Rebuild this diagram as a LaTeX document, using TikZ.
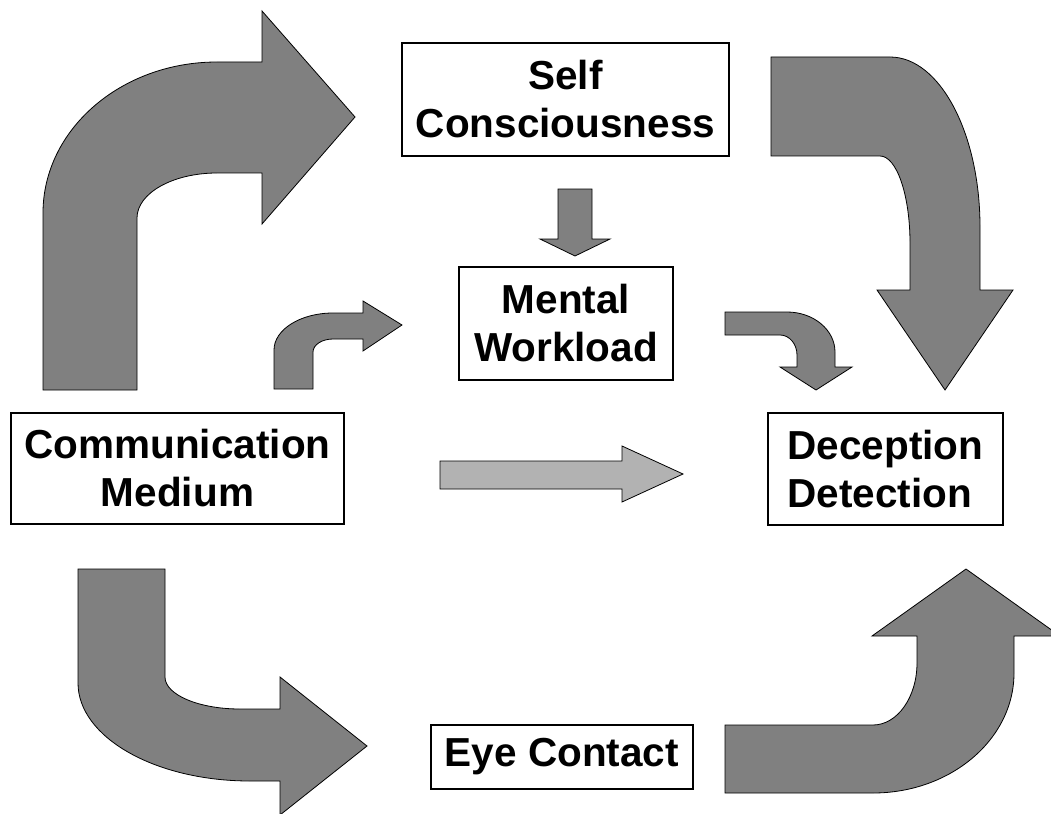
\documentclass[tikz,border=0pt]{standalone}
\usepackage{fontspec}
\setmainfont{Liberation Sans}
\usepackage{tikz}
\usetikzlibrary{calc}

\begin{document}
\begin{tikzpicture}[x=1pt,y=-1pt,
  box/.style={draw=black, line width=2pt, fill=white, inner sep=0pt, align=center,
    font=\fontsize{40.5}{48}\selectfont\bfseries},
  blockarrow/.style={draw=black, line width=0.8pt, fill=black!50, line join=miter},
  lightarrow/.style={blockarrow, fill=black!30}]
\useasboundingbox (0,0) rectangle (1051,813);
\node[box, minimum width=327pt, minimum height=113pt] (self) at (565.5,99.5) {Self\\Consciousness};
\node[box, minimum width=214pt, minimum height=113pt] (mental) at (566,323.5) {Mental\\Workload};
\node[box, minimum width=333pt, minimum height=111pt] (comm) at (177.5,468.5) {Communication\\Medium};
\node[box, minimum width=235pt, minimum height=112pt, align=left] (decep) at (885.5,469) {Deception\\Detection};
\node[box, minimum width=262pt, minimum height=64pt] (eye) at (562,757) {Eye Contact};
\draw[blockarrow] (43,390) -- (43,213) .. controls (43,129.6) and (121,62) .. (217,62) -- (262,62) -- (262,11) -- (355,117) -- (262,224) -- (262,173) -- (217,173) .. controls (172.8,173) and (137,193.2) .. (137,218) -- (137,390) -- cycle;
\draw[blockarrow] (274,389) -- (274,350) .. controls (274,329.6) and (300.4,313) .. (333,313) -- (363,313) -- (363,301) -- (402,325) -- (363,351) -- (363,339) -- (333,339) .. controls (322,339) and (313,344.8) .. (313,352) -- (313,389) -- cycle;
\draw[blockarrow] (771,57) -- (890,57) .. controls (939.7,57) and (980,133.2) .. (980,227) -- (980,290) -- (1013,290) -- (945,390) -- (877,290) -- (910,290) -- (910,243) .. controls (910,195) and (896.6,156) .. (880,156) -- (771,156) -- cycle;
\draw[blockarrow] (725,312) -- (787,312) .. controls (813.5,312) and (835,329.9) .. (835,352) -- (835,367) -- (852,367) -- (816,390) -- (780,367) -- (797,367) -- (797,355) .. controls (797,344) and (789.4,335) .. (780,335) -- (725,335) -- cycle;
\draw[blockarrow] (558,189) -- (592,189) -- (592,239) -- (610,239) -- (575,256) -- (540,239) -- (558,239) -- cycle;
\draw[lightarrow] (440,461) -- (622,461) -- (622,446) -- (683,474) -- (622,502) -- (622,489) -- (440,489) -- cycle;
\draw[blockarrow] (78,569) -- (165,569) -- (165,677) .. controls (165,694.7) and (198.6,709) .. (240,709) -- (280,709) -- (280,677) -- (367,746) -- (280,815) -- (280,781) -- (250,781) .. controls (155,781) and (78,737.1) .. (78,683) -- cycle;
\draw[blockarrow] (725,725) -- (873,725) .. controls (897.3,725) and (917,697.2) .. (917,663) -- (917,636) -- (872,636) -- (966,569) -- (1060,636) -- (1014,636) -- (1014,673) .. controls (1014,739.2) and (950.8,793) .. (873,793) -- (725,793) -- cycle;
\end{tikzpicture}
\end{document}
